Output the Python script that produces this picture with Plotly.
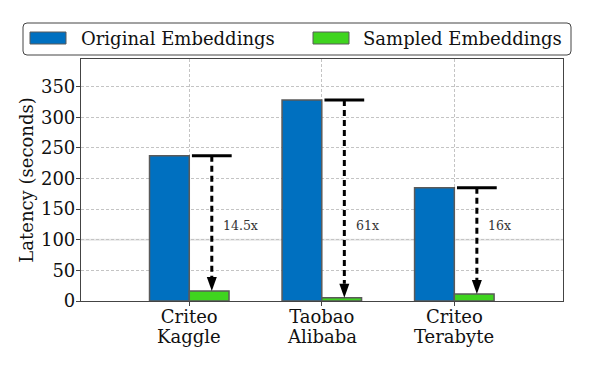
import plotly.graph_objects as go

datasets = ["Criteo", "Taobao", "Criteo"]
sources = ["Kaggle", "Alibaba", "Terabyte"]
original = [237, 328, 185]
sampled = [16.3, 5.4, 11.5]
speedup = ["14.5x", "61x", "16x"]
yticks = [0, 50, 100, 150, 200, 250, 300, 350]

BLUE = "#0070c0"
GREEN = "#3fd41f"
FONT = "DejaVu Serif"

# page and plot box in pixels
W, H = 592, 376
L, R, T, B = 81, 29, 59, 75
pw, ph = W - L - R, H - T - B
y_top = 395
unit_px = ph / y_top


def px_x(px):
    return (px - L) / pw


def px_y(py):
    return (H - B - py) / ph


xs = list(range(len(datasets)))

fig = go.Figure()
fig.add_trace(go.Bar(x=xs, y=original, name="Original Embeddings",
                     marker=dict(color=BLUE, line=dict(color="#5a5a5a", width=1.5)),
                     showlegend=False))
fig.add_trace(go.Bar(x=xs, y=sampled, name="Sampled Embeddings",
                     marker=dict(color=GREEN, line=dict(color="#5a5a5a", width=1.5)),
                     showlegend=False))

# solid light line at 100
fig.add_shape(type="line", xref="paper", x0=0, x1=1, y0=100, y1=100,
              line=dict(color="#e6e6e6", width=2), layer="below")

# reduction arrows
cap_l, cap_r, arr_dx = 0.02, 0.32, 0.17
head_h, head_w = 14, 10
for i, (o, s, lab) in enumerate(zip(original, sampled, speedup)):
    fig.add_shape(type="line", x0=i + cap_l, x1=i + cap_r, y0=o, y1=o,
                  line=dict(color="black", width=3))
    fig.add_trace(go.Scatter(x=[i + arr_dx, i + arr_dx], y=[o, s + head_h / unit_px],
                             mode="lines", showlegend=False, hoverinfo="skip",
                             line=dict(color="black", width=3, dash="6px,4px")))
    fig.add_shape(type="path", xref="x", yref="y", xsizemode="pixel", ysizemode="pixel",
                  xanchor=i + arr_dx, yanchor=s,
                  path=f"M0,0 L{-head_w / 2},{head_h} L{head_w / 2},{head_h} Z",
                  fillcolor="black", line=dict(width=0))
    fig.add_annotation(x=i + 0.24, y=123, text=lab, xanchor="left", yanchor="middle",
                       showarrow=False, font=dict(family=FONT, size=12.5, color="#333"))

# second line of the category labels (tighter line spacing than a <br>)
for i, src in enumerate(sources):
    fig.add_annotation(x=i, xref="x", y=0, yref="paper", text=src, yanchor="top",
                       yshift=-23, showarrow=False, font=dict(family=FONT, size=18, color="#111"))

# legend box, drawn by hand (rounded corners, wide swatches)
lx0, lx1, ly0, ly1, rad = 23 - L, 571 - L, T - 23, T - 55, 4
fig.add_shape(type="path", xref="paper", yref="paper", xsizemode="pixel", ysizemode="pixel",
              xanchor=0, yanchor=1,
              path=(f"M{lx0 + rad},{ly0} L{lx1 - rad},{ly0} Q{lx1},{ly0} {lx1},{ly0 - rad} "
                    f"L{lx1},{ly1 + rad} Q{lx1},{ly1} {lx1 - rad},{ly1} "
                    f"L{lx0 + rad},{ly1} Q{lx0},{ly1} {lx0},{ly1 + rad} "
                    f"L{lx0},{ly0 - rad} Q{lx0},{ly0} {lx0 + rad},{ly0} Z"),
              fillcolor="white", line=dict(color="#444", width=1))
legend_items = [("Original Embeddings", BLUE, 30, 81), ("Sampled Embeddings", GREEN, 313, 363)]
for name, col, sx, tx in legend_items:
    fig.add_shape(type="rect", xref="paper", yref="paper", xsizemode="pixel", ysizemode="pixel",
                  xanchor=0, yanchor=1, x0=sx - L, x1=sx + 36 - L, y0=T - 32, y1=T - 44,
                  fillcolor=col, line=dict(color="#5a5a5a", width=1))
    fig.add_annotation(xref="paper", yref="paper", x=px_x(tx - 2), y=px_y(38.5), text=name,
                       xanchor="left", yanchor="middle", showarrow=False,
                       font=dict(family=FONT, size=18, color="#111"))

fig.update_layout(
    width=W, height=H,
    margin=dict(l=L, r=R, t=T, b=B),
    barmode="group", bargap=0.4, bargroupgap=0,
    plot_bgcolor="white", paper_bgcolor="white",
    font=dict(family=FONT, size=18, color="#111"),
)
fig.update_xaxes(range=[-0.817, 2.82], tickvals=xs, ticktext=datasets,
                 showgrid=True, gridcolor="#c4c4c4", gridwidth=0.8, griddash="3px,2px",
                 ticks="outside", ticklen=4, tickcolor="#444", ticklabelstandoff=-5,
                 showline=True, linecolor="#444", linewidth=1.2, mirror=True, zeroline=False)
fig.update_yaxes(range=[0, y_top], tickvals=yticks,
                 showgrid=True, gridcolor="#c4c4c4", gridwidth=0.8, griddash="3px,2px",
                 ticks="outside", ticklen=4, tickcolor="#444", ticklabelstandoff=-3,
                 showline=True, linecolor="#444", linewidth=1.2, mirror=True, zeroline=False,
                 title=dict(text="Latency (seconds)", standoff=2, font=dict(size=18)))

# drop the browser's default 8px body margin so the figure sits at (0, 0)
fig.write_html("out.html", config={"displayModeBar": False},
               post_script="document.body.style.margin='0';")
